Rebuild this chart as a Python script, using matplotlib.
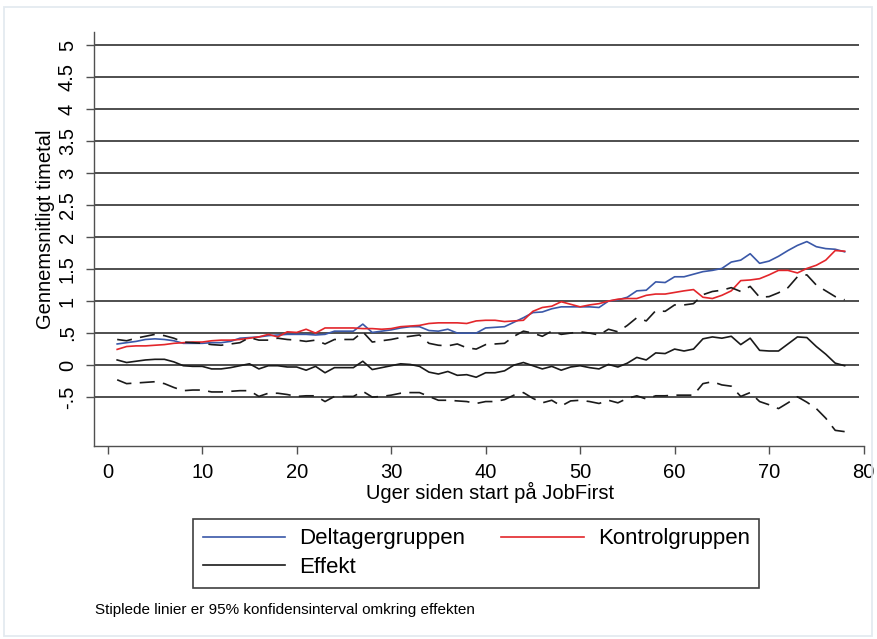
import matplotlib.pyplot as plt
from matplotlib.lines import Line2D
from matplotlib.patches import Rectangle

plt.rcParams['font.family'] = ['Liberation Sans', 'DejaVu Sans']

# Uger siden start (1..78)
weeks = list(range(1, 79))

# Gennemsnitligt timetal - deltagergruppen
deltager = [0.33, 0.35, 0.37, 0.40, 0.41, 0.40, 0.38, 0.34, 0.34, 0.34,
            0.35, 0.35, 0.37, 0.42, 0.43, 0.44, 0.46, 0.47, 0.48, 0.48,
            0.48, 0.47, 0.48, 0.53, 0.53, 0.53, 0.64, 0.51, 0.53, 0.55,
            0.58, 0.60, 0.60, 0.54, 0.53, 0.56, 0.50, 0.50, 0.50, 0.58,
            0.59, 0.60, 0.67, 0.74, 0.82, 0.83, 0.88, 0.91, 0.91, 0.91,
            0.91, 0.90, 1.00, 1.02, 1.06, 1.16, 1.17, 1.30, 1.29, 1.38,
            1.38, 1.42, 1.46, 1.48, 1.51, 1.61, 1.64, 1.74, 1.59, 1.625,
            1.70, 1.79, 1.87, 1.93, 1.85, 1.82, 1.81, 1.77]

# Gennemsnitligt timetal - kontrolgruppen
kontrol = [0.245, 0.29, 0.30, 0.30, 0.31, 0.32, 0.34, 0.35, 0.36, 0.36,
           0.38, 0.39, 0.39, 0.40, 0.42, 0.44, 0.48, 0.44, 0.52, 0.51,
           0.56, 0.50, 0.58, 0.58, 0.58, 0.58, 0.57, 0.57, 0.56, 0.57,
           0.60, 0.61, 0.62, 0.65, 0.66, 0.66, 0.66, 0.65, 0.69, 0.70,
           0.70, 0.68, 0.69, 0.70, 0.84, 0.90, 0.92, 0.99, 0.95, 0.91,
           0.94, 0.96, 1.00, 1.03, 1.04, 1.04, 1.09, 1.11, 1.11, 1.135,
           1.16, 1.18, 1.06, 1.04, 1.09, 1.16, 1.32, 1.33, 1.35, 1.41,
           1.48, 1.48, 1.44, 1.51, 1.56, 1.64, 1.79, 1.78]

# Effekt og 95% konfidensinterval
effekt = [0.08, 0.04, 0.06, 0.08, 0.09, 0.09, 0.05, -0.01, -0.02, -0.02,
          -0.06, -0.06, -0.04, -0.01, 0.02, -0.06, -0.01, -0.01, -0.03, -0.03,
          -0.08, -0.02, -0.12, -0.04, -0.04, -0.04, 0.06, -0.07, -0.04, -0.01,
          0.02, 0.01, -0.02, -0.11, -0.14, -0.10, -0.16, -0.15, -0.19, -0.12,
          -0.12, -0.09, 0.00, 0.04, -0.01, -0.06, -0.02, -0.08, -0.03, -0.01,
          -0.04, -0.06, 0.01, -0.03, 0.03, 0.12, 0.08, 0.19, 0.18, 0.25,
          0.22, 0.25, 0.41, 0.44, 0.42, 0.45, 0.32, 0.42, 0.23, 0.22,
          0.22, 0.33, 0.44, 0.43, 0.29, 0.17, 0.03, -0.01]

ci_upper = [0.40, 0.38, 0.42, 0.45, 0.48, 0.46, 0.42, 0.36, 0.35, 0.34,
            0.32, 0.31, 0.33, 0.35, 0.43, 0.39, 0.39, 0.42, 0.40, 0.39,
            0.37, 0.39, 0.33, 0.40, 0.40, 0.40, 0.52, 0.36, 0.38, 0.40,
            0.43, 0.45, 0.47, 0.34, 0.31, 0.30, 0.33, 0.27, 0.25, 0.32,
            0.33, 0.34, 0.45, 0.53, 0.50, 0.45, 0.53, 0.48, 0.50, 0.52,
            0.50, 0.47, 0.56, 0.52, 0.62, 0.74, 0.69, 0.85, 0.84, 0.94,
            0.94, 0.96, 1.10, 1.15, 1.17, 1.21, 1.15, 1.23, 1.06, 1.07,
            1.13, 1.21, 1.38, 1.41, 1.25, 1.16, 1.07, 1.02]

ci_lower = [-0.23, -0.29, -0.28, -0.27, -0.26, -0.29, -0.35, -0.40, -0.39, -0.39,
            -0.42, -0.42, -0.41, -0.40, -0.40, -0.49, -0.44, -0.44, -0.46, -0.49,
            -0.48, -0.48, -0.57, -0.49, -0.49, -0.49, -0.41, -0.50, -0.49, -0.47,
            -0.44, -0.43, -0.43, -0.49, -0.55, -0.55, -0.56, -0.57, -0.60, -0.57,
            -0.57, -0.54, -0.47, -0.43, -0.52, -0.59, -0.55, -0.64, -0.56, -0.55,
            -0.57, -0.60, -0.55, -0.59, -0.52, -0.48, -0.53, -0.48, -0.48, -0.47,
            -0.47, -0.47, -0.29, -0.26, -0.31, -0.33, -0.49, -0.43, -0.57, -0.62,
            -0.68, -0.59, -0.495, -0.58, -0.68, -0.83, -1.02, -1.04]

yticks = [-0.5, 0, 0.5, 1, 1.5, 2, 2.5, 3, 3.5, 4, 4.5, 5]
ytick_labels = ['-.5', '0', '.5', '1', '1.5', '2', '2.5', '3', '3.5', '4', '4.5', '5']
xticks = [0, 10, 20, 30, 40, 50, 60, 70, 80]

blue = '#3a58a8'
red = '#e3262b'

fig = plt.figure(figsize=(8.77, 6.39), dpi=100)
ax = fig.add_axes([0.1072, 0.3025, 0.878, 0.6479])

# light frame around the graph
fig.patches.append(Rectangle((0.0046, 0.005), 0.99, 0.9835, transform=fig.transFigure,
                             fill=False, edgecolor='#e4eaf0', linewidth=1.3))

# horizontal grid
ax.hlines(yticks, -1.45, 79.5, color='#303030', linewidth=1.2, zorder=1)

ax.plot(weeks, deltager, color=blue, linewidth=1.2, zorder=3)
ax.plot(weeks, kontrol, color=red, linewidth=1.2, zorder=3)
ax.plot(weeks, effekt, color='#1a1a1a', linewidth=1.2, zorder=3)
ax.plot(weeks, ci_upper, color='#1a1a1a', linewidth=1.2, linestyle=(0, (9, 5)), zorder=3)
ax.plot(weeks, ci_lower, color='#1a1a1a', linewidth=1.2, linestyle=(0, (9, 5)), zorder=3)

ax.set_xlim(-1.45, 80.05)
ax.set_ylim(-1.26, 5.21)

ax.set_yticks(yticks)
ax.set_yticklabels(ytick_labels)
ax.set_xticks(xticks)

ax.tick_params(axis='y', labelrotation=90, length=5.8, width=1, pad=6.5,
               labelsize=14.5, color='#505050')
ax.tick_params(axis='x', length=5.5, width=1, pad=7, labelsize=14.5, color='#505050')
for lab in ax.get_yticklabels():
    lab.set_verticalalignment('center')

for s in ['top', 'right']:
    ax.spines[s].set_visible(False)
for s in ['left', 'bottom']:
    ax.spines[s].set_color('#505050')
    ax.spines[s].set_linewidth(1.0)

ax.set_ylabel('Gennemsnitligt timetal', fontsize=14.5)
ax.yaxis.set_label_coords(-0.051, 0.523)
ax.set_xlabel('Uger siden start på JobFirst', fontsize=14.5)
ax.xaxis.set_label_coords(0.514, -0.088)

handles = [Line2D([], [], color=blue, linewidth=1.2),
           Line2D([], [], color='#1a1a1a', linewidth=1.2),
           Line2D([], [], color=red, linewidth=1.2)]
labels = ['Deltagergruppen', 'Effekt', 'Kontrolgruppen']
leg = fig.legend(handles, labels, ncol=2, loc='center', mode='expand',
                 bbox_to_anchor=(0.2204, 0.0793, 0.6454, 0.1096),
                 fontsize=16, frameon=True, fancybox=False, framealpha=1,
                 edgecolor='#404040', handlelength=3.7, handletextpad=0.65,
                 labelspacing=0.35, borderpad=0.42, borderaxespad=0)
leg.get_frame().set_linewidth(1.2)

fig.text(0.108, 0.0454, 'Stiplede linier er 95% konfidensinterval omkring effekten',
         fontsize=11, va='center', ha='left')

fig.savefig('out.png', dpi=100)
